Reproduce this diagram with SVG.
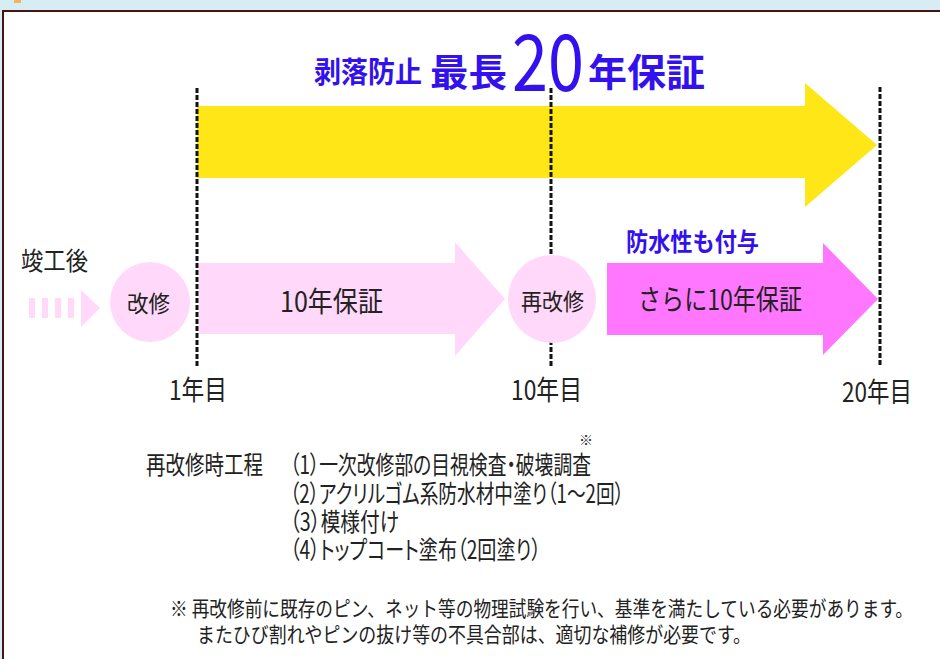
<svg xmlns="http://www.w3.org/2000/svg" width="940" height="659" viewBox="0 0 940 659">
<style>
text{font-family:"Noto Sans CJK JP","Noto Sans CJK SC",sans-serif;dominant-baseline:central;fill:#222}
.t{font-weight:700;fill:#3311ee}
.p{font-feature-settings:"palt"}
.dash{stroke:#111;stroke-width:3;stroke-dasharray:5 2;fill:none}
.lp{fill:#ffd8fa}
</style>
<rect x="0" y="0" width="940" height="659" fill="#d6edf4"/>
<rect x="14" y="0" width="7" height="3" fill="#f3b45a"/>
<rect x="3" y="11" width="945" height="660" fill="#fff" stroke="#4a1212" stroke-width="2"/>
<g id="title">
<text class="t" x="314" y="70" font-size="29" textLength="108" lengthAdjust="spacingAndGlyphs">剥落防止</text>
<text class="t" x="430" y="69" font-size="38" textLength="77" lengthAdjust="spacingAndGlyphs">最長</text>
<text class="t" x="512" y="57" font-size="78" style="font-weight:400" textLength="72" lengthAdjust="spacingAndGlyphs">20</text>
<text class="t" x="588" y="69" font-size="38" textLength="117" lengthAdjust="spacingAndGlyphs">年保証</text>
</g>
<g id="arrow-20yr">
<polygon points="197,106 805,106 805,83 877,145 805,207 805,178 197,178" fill="#ffe617"/>
</g>
<g id="arrow-10yr">
<polygon class="lp" points="199,263 455,263 455,242 505,299 455,356 455,334 199,334"/>
<text x="280" y="300" font-size="28" textLength="103" lengthAdjust="spacingAndGlyphs">10年保証</text>
</g>
<g id="arrow-extra">
<polygon points="607,263 823,263 823,243 878,299 823,355 823,335 607,335" fill="#ff77ff"/>
<text x="638" y="298" font-size="28" textLength="164" lengthAdjust="spacingAndGlyphs">さらに10年保証</text>
<text class="t" x="626" y="240" font-size="25" textLength="133" lengthAdjust="spacingAndGlyphs">防水性も付与</text>
</g>
<g id="connectors">
<line class="dash" x1="197" y1="88" x2="197" y2="366"/>
<line class="dash" x1="551" y1="88" x2="551" y2="366"/>
<line class="dash" x1="880" y1="87" x2="880" y2="366"/>
<g class="lp">
<rect x="29" y="298" width="6" height="20"/>
<rect x="42" y="298" width="6" height="20"/>
<rect x="55" y="298" width="6" height="20"/>
<rect x="68" y="298" width="6" height="20"/>
<polygon points="81,290 100,308 81,327"/>
</g>
</g>
<g id="start">
<text x="21" y="259" font-size="25" textLength="67" lengthAdjust="spacingAndGlyphs">竣工後</text>
</g>
<g id="node-kaishu">
<circle class="lp" cx="150" cy="302" r="40"/>
<text x="127" y="302" font-size="23" textLength="43" lengthAdjust="spacingAndGlyphs">改修</text>
</g>
<g id="node-saikaishu">
<circle class="lp" cx="552" cy="299" r="44"/>
<text x="521" y="300" font-size="23" textLength="63" lengthAdjust="spacingAndGlyphs">再改修</text>
</g>
<g id="labels">
<text x="169" y="388" font-size="27" textLength="58" lengthAdjust="spacingAndGlyphs">1年目</text>
<text x="511" y="388" font-size="27" textLength="71" lengthAdjust="spacingAndGlyphs">10年目</text>
<text x="842" y="390" font-size="27" textLength="70" lengthAdjust="spacingAndGlyphs">20年目</text>
</g>
<g id="process">
<text x="146" y="463" font-size="25" textLength="117" lengthAdjust="spacingAndGlyphs">再改修時工程</text>
<text x="579" y="439" font-size="14">※</text>
<text class="p" x="290" y="463" font-size="25" textLength="301" lengthAdjust="spacingAndGlyphs">（1）一次改修部の目視検査・破壊調査</text>
<text class="p" x="290" y="492" font-size="25" textLength="334" lengthAdjust="spacingAndGlyphs">（2）アクリルゴム系防水材中塗り（1～2回）</text>
<text class="p" x="290" y="520" font-size="25" textLength="109" lengthAdjust="spacingAndGlyphs">（3）模様付け</text>
<text class="p" x="290" y="548" font-size="25" textLength="251" lengthAdjust="spacingAndGlyphs">（4）トップコート塗布（2回塗り）</text>
</g>
<g id="note">
<text x="170" y="607" font-size="21" textLength="743" lengthAdjust="spacingAndGlyphs">※ 再改修前に既存のピン、ネット等の物理試験を行い、基準を満たしている必要があります。</text>
<text x="197" y="633" font-size="21" textLength="554" lengthAdjust="spacingAndGlyphs">またひび割れやピンの抜け等の不具合部は、適切な補修が必要です。</text>
</g>
</svg>
